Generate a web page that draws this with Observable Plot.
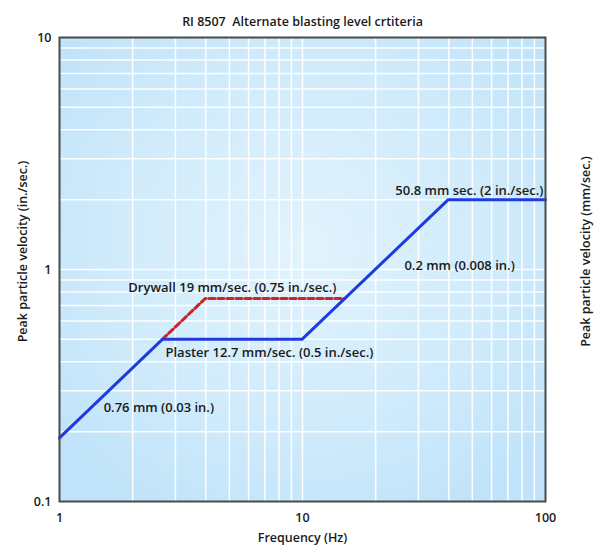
<!DOCTYPE html>
<html>
<head>
<meta charset="utf-8">
<script src="https://cdn.jsdelivr.net/npm/d3@7"></script>
<script src="https://cdn.jsdelivr.net/npm/@observablehq/plot@0.6"></script>
<style>
  html, body { margin: 0; padding: 0; background: #fff; }
  svg { display: block; }
</style>
</head>
<body>
<div id="chart"></div>
<script>
const title = "RI 8507  Alternate blasting level crtiteria";
const xLabel = "Frequency (Hz)";
const yLabelLeft = "Peak particle velocity (in./sec.)";
const yLabelRight = "Peak particle velocity (mm/sec.)";

// Blue limit line (Plaster): frequency (Hz) vs peak particle velocity (in./sec.)
const plasterFreq = [1, 2.65, 9.95, 39.8, 100];
const plasterVel  = [0.188, 0.5, 0.5, 2, 2];

// Red dashed (Drywall)
const drywallFreq = [2.65, 3.98, 14.9];
const drywallVel  = [0.5, 0.75, 0.75];

// Annotations
const labelText = [
  "50.8 mm sec. (2 in./sec.)",
  "0.2 mm (0.008 in.)",
  "Drywall 19 mm/sec. (0.75 in./sec.)",
  "Plaster 12.7 mm/sec. (0.5 in./sec.)",
  "0.76 mm (0.03 in.)"
];
const labelFreq = [98, 44.3, 1.92, 2.73, 1.52];
const labelVel  = [2.19, 1.04, 0.836, 0.438, 0.254];
const labelAnchor = ["end", "middle", "start", "start", "start"];

// Axis ticks
const xTicks = [1, 10, 100];
const yTicks = [0.1, 1, 10];
const yTicksMm = ["2.54", "25.4", "254"];
const xGrid = [2,3,4,5,6,7,8,9,10,20,30,40,50,60,70,80,90];
const yGrid = [0.2,0.3,0.4,0.5,0.6,0.7,0.8,0.9,1,2,3,4,5,6,7,8,9];

const plaster = plasterFreq.map((f, i) => ({f, v: plasterVel[i]}));
const drywall = drywallFreq.map((f, i) => ({f, v: drywallVel[i]}));
const labels = labelText.map((t, i) => ({t, f: labelFreq[i], v: labelVel[i], a: labelAnchor[i]}));

const font = "'Open Sans', 'Noto Sans', sans-serif";
const textStyle = {fill: "#1a1a1a", fontSize: 13, fontWeight: 600};

const plot = Plot.plot({
  width: 595,
  height: 548,
  marginTop: 37,
  marginBottom: 47,
  marginLeft: 59,
  marginRight: 50,
  style: {fontFamily: font, fontSize: "12px", color: "#1a1a1a", background: "transparent"},
  x: {type: "log", domain: [1, 100]},
  y: {type: "log", domain: [0.1, 10]},
  marks: [
    Plot.frame({fill: "url(#bgGrad)", stroke: "none"}),
    Plot.gridX(xGrid, {stroke: "#fff", strokeOpacity: 0.95, strokeWidth: 1.5}),
    Plot.gridY(yGrid, {stroke: "#fff", strokeOpacity: 0.95, strokeWidth: 1.5}),
    Plot.axisX(xTicks, {tickSize: 0, tickPadding: 12, tickFormat: d => String(d), fontSize: 12.5, fontWeight: 600, label: null}),
    Plot.axisY(yTicks, {anchor: "left", tickSize: 0, tickPadding: 8, tickFormat: d => String(d), fontSize: 12.5, fontWeight: 600, label: null}),
    Plot.axisY(yTicks, {anchor: "right", tickSize: 0, tickPadding: 8, tickFormat: (d, i) => yTicksMm[i], fontSize: 12.5, fontWeight: 600, label: null}),
    Plot.line(drywall, {x: "f", y: "v", stroke: "#c8262b", strokeWidth: 3, strokeDasharray: "6,3"}),
    Plot.line(plaster, {x: "f", y: "v", stroke: "#1f3be0", strokeWidth: 3}),
    Plot.frame({stroke: "#4a4a4a", strokeWidth: 2}),
    ...["start", "middle", "end"].map(a =>
      Plot.text(labels.filter(d => d.a === a), {x: "f", y: "v", text: "t", textAnchor: a, ...textStyle})),
    Plot.text([title], {frameAnchor: "top", dy: -20, ...textStyle, fontSize: 12.5}),
    Plot.text([xLabel], {frameAnchor: "bottom", dy: 40, ...textStyle, fontSize: 12.5}),
    Plot.text([yLabelLeft], {frameAnchor: "left", textAnchor: "middle", dx: -37, dy: -18, rotate: -90, ...textStyle, fontSize: 12.5}),
    Plot.text([yLabelRight], {frameAnchor: "right", textAnchor: "middle", dx: 40, dy: -18, rotate: -90, ...textStyle, fontSize: 12.5})
  ]
});

d3.select(plot).insert("defs", ":first-child").html(`
  <radialGradient id="bgGrad" cx="50%" cy="45%" r="65%">
    <stop offset="0%" stop-color="#e2f3fd"/>
    <stop offset="60%" stop-color="#d0ebfb"/>
    <stop offset="100%" stop-color="#c0e3f9"/>
  </radialGradient>`);

document.getElementById("chart").appendChild(plot);
</script>
</body>
</html>
